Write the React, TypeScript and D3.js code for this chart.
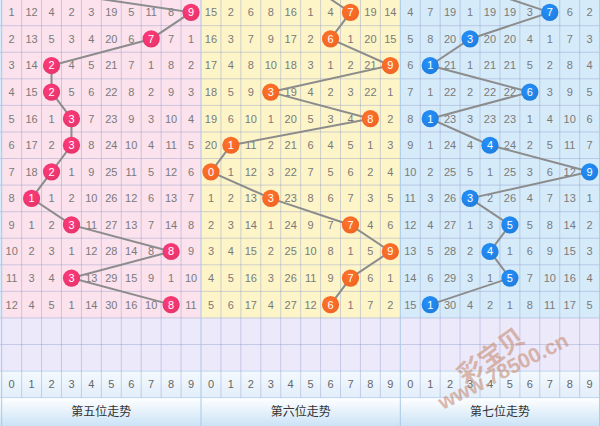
import React from "react";
import * as d3 from "d3";

// ---- data ----
const SECTION_TITLES = ["第五位走势", "第六位走势", "第七位走势"];
const DIGITS = [0, 1, 2, 3, 4, 5, 6, 7, 8, 9];
// winning digit of the (cropped-off) row just above the first visible row
const PREV_WIN = [0, 5, 3];
const SEC5_WIN = [9, 7, 2, 2, 3, 3, 2, 1, 3, 8, 3, 8];
const SEC6_WIN = [7, 6, 9, 3, 8, 1, 0, 3, 7, 9, 7, 6];
const SEC7_WIN = [7, 3, 1, 6, 1, 4, 9, 3, 5, 4, 5, 1];

const SEC5_MISS: (number | null)[][] = [
  [1, 12, 4, 2, 3, 19, 5, 11, 8, null],
  [2, 13, 5, 3, 4, 20, 6, null, 7, 1],
  [3, 14, null, 4, 5, 21, 7, 1, 8, 2],
  [4, 15, null, 5, 6, 22, 8, 2, 9, 3],
  [5, 16, 1, null, 7, 23, 9, 3, 10, 4],
  [6, 17, 2, null, 8, 24, 10, 4, 11, 5],
  [7, 18, null, 1, 9, 25, 11, 5, 12, 6],
  [8, null, 1, 2, 10, 26, 12, 6, 13, 7],
  [9, 1, 2, null, 11, 27, 13, 7, 14, 8],
  [10, 2, 3, 1, 12, 28, 14, 8, null, 9],
  [11, 3, 4, null, 13, 29, 15, 9, 1, 10],
  [12, 4, 5, 1, 14, 30, 16, 10, null, 11],
];
const SEC6_MISS: (number | null)[][] = [
  [15, 2, 6, 8, 16, 1, 4, null, 19, 14],
  [16, 3, 7, 9, 17, 2, null, 1, 20, 15],
  [17, 4, 8, 10, 18, 3, 1, 2, 21, null],
  [18, 5, 9, null, 19, 4, 2, 3, 22, 1],
  [19, 6, 10, 1, 20, 5, 3, 4, null, 2],
  [20, null, 11, 2, 21, 6, 4, 5, 1, 3],
  [null, 1, 12, 3, 22, 7, 5, 6, 2, 4],
  [1, 2, 13, null, 23, 8, 6, 7, 3, 5],
  [2, 3, 14, 1, 24, 9, 7, null, 4, 6],
  [3, 4, 15, 2, 25, 10, 8, 1, 5, null],
  [4, 5, 16, 3, 26, 11, 9, null, 6, 1],
  [5, 6, 17, 4, 27, 12, null, 1, 7, 2],
];
const SEC7_MISS: (number | null)[][] = [
  [4, 7, 19, 1, 19, 19, 3, null, 6, 2],
  [5, 8, 20, null, 20, 20, 4, 1, 7, 3],
  [6, null, 21, 1, 21, 21, 5, 2, 8, 4],
  [7, 1, 22, 2, 22, 22, null, 3, 9, 5],
  [8, null, 23, 3, 23, 23, 1, 4, 10, 6],
  [9, 1, 24, 4, null, 24, 2, 5, 11, 7],
  [10, 2, 25, 5, 1, 25, 3, 6, 12, null],
  [11, 3, 26, null, 2, 26, 4, 7, 13, 1],
  [12, 4, 27, 1, 3, null, 5, 8, 14, 2],
  [13, 5, 28, 2, null, 1, 6, 9, 15, 3],
  [14, 6, 29, 3, 1, null, 7, 10, 16, 4],
  [15, null, 30, 4, 2, 1, 8, 11, 17, 5],
];

const WINS = [SEC5_WIN, SEC6_WIN, SEC7_WIN];
const MISSES = [SEC5_MISS, SEC6_MISS, SEC7_MISS];
const SEC_BG = ["#fbe2ed", "#fdf5c8", "#d5ebfa"];
const BALL = ["#e5336a", "#ef6424", "#1f7ddc"];

const W = 600;
const H = 426;
const X0 = 1.7;
const COLW = 19.93;
const Y0 = -0.9;
const ROWH = 26.57;
const NROWS = 12;

export default function App() {
  const x = d3.scaleLinear().domain([0, 30]).range([X0, X0 + 30 * COLW]);
  const y = d3.scaleLinear().domain([0, 16]).range([Y0, Y0 + 16 * ROWH]);
  const cx = (sec: number, d: number) => x(sec * 10 + d + 0.5);
  const cy = (r: number) => y(r + 0.5);
  const line = d3
    .line<[number, number]>()
    .x((p) => p[0])
    .y((p) => p[1]);

  const gridColor = "rgba(140,150,200,0.4)";
  const textColor = "#7a7a7a";
  const font = "'Liberation Sans', Arial, sans-serif";

  return (
    <svg
      width={W}
      height={H}
      style={{ position: "absolute", left: 0, top: 0, display: "block" }}
      fontFamily={font}
    >
      <defs>
        <linearGradient id="titleGrad" x1="0" y1="0" x2="0" y2="1">
          <stop offset="0" stopColor="#ffffff" />
          <stop offset="1" stopColor="#cbe3f6" />
        </linearGradient>
        <linearGradient id="axisGrad" x1="0" y1="0" x2="0" y2="1">
          <stop offset="0" stopColor="#f4f9fe" />
          <stop offset="1" stopColor="#e2eefa" />
        </linearGradient>
        {BALL.map((c, i) => (
          <radialGradient key={i} id={`ball${i}`} cx="0.4" cy="0.35" r="0.7">
            <stop offset="0" stopColor={d3.color(c)!.brighter(0.4).formatHex()} />
            <stop offset="1" stopColor={c} />
          </radialGradient>
        ))}
        <clipPath id="dataClip">
          <rect x={0} y={0} width={W} height={y(NROWS)} />
        </clipPath>
      </defs>

      <rect x={0} y={0} width={W} height={H} fill="#ffffff" />

      {/* section backgrounds for data rows */}
      {SEC_BG.map((c, s) => (
        <rect
          key={s}
          x={x(s * 10)}
          y={0}
          width={x(s * 10 + 10) - x(s * 10)}
          height={y(NROWS)}
          fill={c}
        />
      ))}
      <rect x={0} y={0} width={X0} height={y(NROWS)} fill="#d7ecfa" />

      {/* empty lavender rows */}
      <rect x={0} y={y(NROWS)} width={W} height={y(14) - y(NROWS)} fill="#ece9fa" />
      {/* axis row */}
      <rect x={0} y={y(14)} width={W} height={y(15) - y(14)} fill="url(#axisGrad)" />
      {/* title row */}
      <rect x={0} y={y(15)} width={W} height={H - y(15)} fill="url(#titleGrad)" />

      {/* horizontal grid */}
      {d3.range(1, 16).map((r) => (
        <line
          key={r}
          x1={0}
          x2={W}
          y1={y(r)}
          y2={y(r)}
          stroke={r >= 14 ? "#bcd6ee" : gridColor}
          strokeWidth={1}
        />
      ))}
      {/* vertical grid */}
      {d3.range(0, 31).map((c) => (
        <line
          key={c}
          x1={x(c)}
          x2={x(c)}
          y1={0}
          y2={c % 10 === 0 ? H : y(15)}
          stroke={c % 10 === 0 ? "#a9c8e6" : gridColor}
          strokeWidth={1}
        />
      ))}

      {/* miss numbers */}
      {MISSES.map((rows, s) =>
        rows.map((row, r) =>
          row.map((v, d) =>
            v === null ? null : (
              <text
                key={`${s}-${r}-${d}`}
                x={cx(s, d)}
                y={cy(r)}
                dy="0.36em"
                textAnchor="middle"
                fontSize={11}
                fill={textColor}
              >
                {v}
              </text>
            )
          )
        )
      )}

      {/* trend lines */}
      <g clipPath="url(#dataClip)">
        {WINS.map((wins, s) => {
          const pts: [number, number][] = [
            [cx(s, PREV_WIN[s]), cy(-1)],
            ...wins.map((w, r) => [cx(s, w), cy(r)] as [number, number]),
          ];
          return (
            <path
              key={s}
              d={line(pts) || ""}
              fill="none"
              stroke="#8c8c8c"
              strokeWidth={2}
            />
          );
        })}
      </g>

      {/* balls */}
      {WINS.map((wins, s) =>
        wins.map((w, r) => (
          <g key={`b${s}-${r}`}>
            <circle cx={cx(s, w)} cy={cy(r)} r={8.6} fill={`url(#ball${s})`} />
            <text
              x={cx(s, w)}
              y={cy(r)}
              dy="0.36em"
              textAnchor="middle"
              fontSize={11}
              fill="#ffffff"
            >
              {w}
            </text>
          </g>
        ))
      )}

      {/* axis digits */}
      {[0, 1, 2].map((s) =>
        DIGITS.map((d) => (
          <text
            key={`a${s}-${d}`}
            x={cx(s, d)}
            y={y(14.5)}
            dy="0.36em"
            textAnchor="middle"
            fontSize={11}
            fill="#666"
          >
            {d}
          </text>
        ))
      )}

      {/* section titles */}
      {SECTION_TITLES.map((t, s) => (
        <text
          key={t}
          x={x(s * 10 + 5)}
          y={(y(15) + H) / 2}
          dy="0.36em"
          textAnchor="middle"
          fontSize={12}
          fill="#333"
          fontFamily="'Noto Sans CJK SC', sans-serif"
        >
          {t}
        </text>
      ))}

      {/* watermark */}
      <g opacity={0.6} fill="#c98e78">
        <text
          transform="translate(491,356) rotate(-36)"
          textAnchor="middle"
          dy="0.35em"
          fontSize={25}
          fontWeight="bold"
          fontFamily="'Noto Sans CJK SC', sans-serif"
        >
          彩宝贝
        </text>
        <text
          transform="translate(503,371) rotate(-27)"
          textAnchor="middle"
          dy="0.35em"
          fontSize={21}
          fontWeight="bold"
          fontFamily="'Liberation Sans', Arial, sans-serif"
        >
          www.78500.cn
        </text>
      </g>
    </svg>
  );
}
